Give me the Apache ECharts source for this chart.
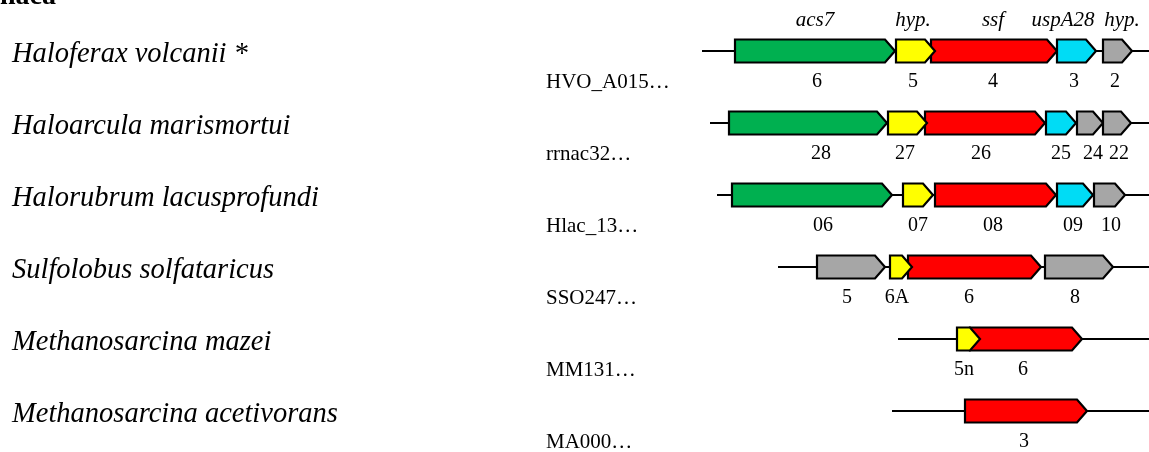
<!DOCTYPE html>
<html>
<head>
<meta charset="utf-8">
<script src="https://cdn.jsdelivr.net/npm/echarts@6/dist/echarts.min.js"></script>
<style>
  html, body { margin: 0; padding: 0; background: #fff; }
  #chart { width: 1149px; height: 452px; }
</style>
</head>
<body>
<div id="chart"></div>
<script>
// organisms, one row each
const species = [
    'Haloferax volcanii *',
    'Haloarcula marismortui',
    'Halorubrum lacusprofundi',
    'Sulfolobus solfataricus',
    'Methanosarcina mazei',
    'Methanosarcina acetivorans'
];
const locusTags = ['HVO_A015…', 'rrnac32…', 'Hlac_13…', 'SSO247…', 'MM131…', 'MA000…'];

// backbone of each locus (position along the x axis)
const lineStart = [702, 710, 717, 778, 898, 892];
const lineEnd = [1149, 1149, 1149, 1149, 1149, 1149];

// genes: row, start, end, kind, number under the arrow, where that number sits
// (red listed before yellow so the small yellow ones sit on top)
const geneRow   = [0, 0, 0, 0, 0,   1, 1, 1, 1, 1, 1,   2, 2, 2, 2, 2,   3, 3, 3, 3,   4, 4,   5];
const geneStart = [735, 931, 896, 1057, 1103,   729, 925, 888, 1046, 1077, 1103,   732, 935, 903, 1057, 1094,   817, 908, 890, 1045,   970, 957,   965];
const geneEnd   = [895, 1057, 935, 1096, 1132,   887, 1045, 927, 1076, 1103, 1131,   892, 1056, 933, 1093, 1125,   885, 1041, 912, 1113,   1082, 980,   1087];
const geneKind  = ['acs', 'ssf', 'hyp', 'usp', 'other',
                   'acs', 'ssf', 'hyp', 'usp', 'other', 'other',
                   'acs', 'ssf', 'hyp', 'usp', 'other',
                   'other', 'ssf', 'hyp', 'other',
                   'ssf', 'hyp',
                   'ssf'];
const geneNum   = ['6', '4', '5', '3', '2',
                   '28', '26', '27', '25', '24', '22',
                   '06', '08', '07', '09', '10',
                   '5', '6', '6A', '8',
                   '6', '5n',
                   '3'];
const geneNumAt = [817, 993, 913, 1074, 1115,
                   821, 981, 905, 1061, 1093, 1119,
                   823, 993, 918, 1073, 1111,
                   847, 969, 897, 1075,
                   1023, 964,
                   1024];
// gene names written above the first locus
const geneName   = ['acs7', 'ssf', 'hyp.', 'uspA28', 'hyp.'];
const geneNameAt = [815, 993, 913, 1063, 1122];

const kindColor = {
    acs: '#00b050',
    hyp: '#ffff00',
    ssf: '#ff0000',
    usp: '#00dcf5',
    other: '#a6a6a6'
};

const serif = "'Liberation Serif', 'Times New Roman', serif";

const chart = echarts.init(document.getElementById('chart'));

const geneData = geneRow.map((r, i) => [geneStart[i], r, geneEnd[i]]);
const rowData = species.map((s, i) => [lineStart[i], i, lineEnd[i]]);

function renderRow(params, api) {
    const i = params.dataIndex;
    const p1 = api.coord([api.value(0), api.value(1)]);
    const p2 = api.coord([api.value(2), api.value(1)]);
    const y = p1[1];
    return {
        type: 'group',
        children: [
            {
                type: 'line',
                shape: { x1: p1[0], y1: y, x2: p2[0], y2: y },
                style: { stroke: '#000', lineWidth: 2 }
            },
            {
                type: 'text',
                x: 12, y: y + 4,
                style: {
                    text: species[i], fill: '#000',
                    font: 'italic 28.5px ' + serif,
                    verticalAlign: 'middle', align: 'left'
                }
            },
            {
                type: 'text',
                x: 546, y: y + 31,
                style: {
                    text: locusTags[i], fill: '#000',
                    font: '21px ' + serif,
                    verticalAlign: 'middle', align: 'left'
                }
            }
        ]
    };
}

function renderGene(params, api) {
    const i = params.dataIndex;
    const a = api.coord([api.value(0), api.value(1)]);
    const b = api.coord([api.value(2), api.value(1)]);
    const y = a[1];
    const h = 23;
    const head = Math.min(10, (b[0] - a[0]) * 0.6);
    const numX = api.coord([geneNumAt[i], geneRow[i]])[0];
    const kids = [
        {
            type: 'polygon',
            shape: {
                points: [
                    [a[0], y - h / 2],
                    [b[0] - head, y - h / 2],
                    [b[0], y],
                    [b[0] - head, y + h / 2],
                    [a[0], y + h / 2]
                ]
            },
            style: { fill: kindColor[geneKind[i]], stroke: '#000', lineWidth: 2.2, lineJoin: 'miter' }
        },
        {
            type: 'text',
            x: numX, y: y + 31,
            style: {
                text: geneNum[i], fill: '#000',
                font: '20px ' + serif,
                align: 'center', verticalAlign: 'middle'
            }
        }
    ];
    if (geneRow[i] === 0) {
        kids.push({
            type: 'text',
            x: api.coord([geneNameAt[i], 0])[0], y: y - 31,
            style: {
                text: geneName[i], fill: '#000',
                font: 'italic 21px ' + serif,
                align: 'center', verticalAlign: 'middle'
            }
        });
    }
    return { type: 'group', children: kids };
}

chart.setOption({
    animation: false,
    backgroundColor: '#fff',
    grid: { left: 0, right: 0, top: 15, bottom: 5 },
    xAxis: {
        type: 'value', min: 0, max: 1149,
        show: false
    },
    yAxis: {
        type: 'category',
        data: species,
        inverse: true,
        show: false
    },
    graphic: [
        {
            type: 'text', x: 0, y: -3,
            style: { text: 'naca', fill: '#000', font: 'bold 28px ' + serif, verticalAlign: 'middle' }
        }
    ],
    series: [
        {
            type: 'custom',
            name: 'loci',
            data: rowData,
            encode: { x: [0, 2], y: 1 },
            renderItem: renderRow,
            z: 1
        },
        {
            type: 'custom',
            name: 'genes',
            data: geneData,
            encode: { x: [0, 2], y: 1 },
            renderItem: renderGene,
            z: 2
        }
    ]
});
</script>
</body>
</html>
